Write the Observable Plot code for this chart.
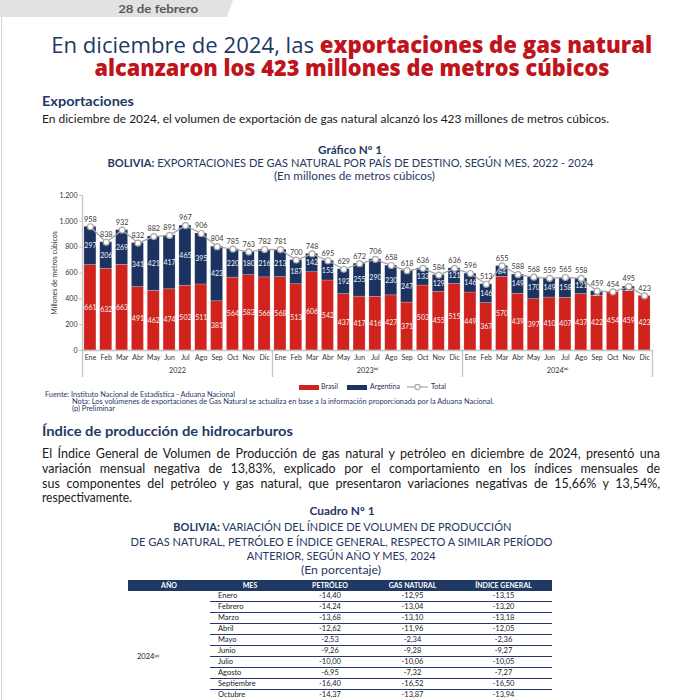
<!DOCTYPE html>
<html lang="es"><head><meta charset="utf-8">
<script src="https://cdn.jsdelivr.net/npm/d3@7"></script>
<script src="https://cdn.jsdelivr.net/npm/@observablehq/plot@0.6"></script>
<style>
html,body{margin:0;padding:0}
body{width:700px;height:700px;overflow:hidden;position:relative;background:#fff;font-family:Lato,"Open Sans",sans-serif;color:#1a1a1a}
.t{position:absolute;white-space:nowrap;line-height:1;display:inline-block}
.t .ib{display:inline-block;line-height:1}
.navy{color:#1f3864}
.red{color:#c0141c}
.b{font-weight:700}
#tab{position:absolute;left:0;top:0;width:233px;height:17px;background:#e2e2e2;clip-path:polygon(0 0,233px 0,227px 17px,0 17px)}
#border{position:absolute;left:1px;top:0;width:1px;height:700px;background:#d2d2d2}
#chart{position:absolute;left:40px;top:188px}
#legend{position:absolute;top:382px;left:0;width:700px;height:10px;font-size:7px;color:#2a2f4a}
#legend .sw{position:absolute;top:3px;width:20px;height:5px}
#legend .lb{position:absolute;top:1px;line-height:1}
table{position:absolute;left:128px;top:580px;border-collapse:collapse;font-size:7.5px;color:#222;table-layout:fixed}
th{background:#1f3864;color:#fff;font-weight:700;height:11px;padding:0;line-height:11px;font-size:7px}
td{height:10px;padding:0;line-height:10px;text-align:center;border-bottom:1px solid #23386a}
td.m{text-align:left;padding-left:8px}
td.y{border-bottom:none;text-align:left;padding-left:9px;vertical-align:middle}
sup{font-size:60%;vertical-align:top;position:relative;top:-1px}
</style></head><body>
<div id="border"></div>
<div id="tab"></div>
<span class="t b" style="color:#595959" data-fs="12" data-b="14" data-cx="158" data-w="80">28 de febrero</span>
<span class="t" style="font-family:'Open Sans',sans-serif" data-fs="22" data-b="52.5" data-cx="351.5" data-w="601"><span class="ib navy">En diciembre de 2024, las</span> <span class="ib red" style="font-weight:800">exportaciones de gas natural</span></span>
<span class="t red" style="font-family:'Open Sans',sans-serif;font-weight:800" data-fs="22" data-b="76" data-cx="351.5" data-w="515">alcanzaron los 423 millones de metros cúbicos</span>
<span class="t b navy" data-fs="13.5" data-b="107" data-x="42" data-w="92">Exportaciones</span>
<span class="t" data-fs="12" data-b="123.5" data-x="42" data-w="567">En diciembre de 2024, el volumen de exportación de gas natural alcanzó los 423 millones de metros cúbicos.</span>
<span class="t b navy" data-fs="11" data-b="153.5" data-cx="350" data-w="64">Gráfico Nº 1</span>
<span class="t navy" data-fs="11" data-b="167" data-cx="351" data-w="486"><b>BOLIVIA:</b> EXPORTACIONES DE GAS NATURAL POR PAÍS DE DESTINO, SEGÚN MES, 2022 - 2024</span>
<span class="t navy" data-fs="11" data-b="179.5" data-cx="354" data-w="161">(En millones de metros cúbicos)</span>
<div id="chart"></div>
<div id="legend">
  <div class="sw" style="left:299px;background:#d0231d"></div><span class="lb" style="left:321px">Brasil</span>
  <div class="sw" style="left:347px;background:#1c3361"></div><span class="lb" style="left:370px">Argentina</span>
  <svg style="position:absolute;left:406px;top:0" width="24" height="10"><line x1="1" y1="5" x2="22" y2="5" stroke="#a6a6a6" stroke-width="1.2"/><circle cx="11.5" cy="5" r="2.6" fill="#fff" stroke="#a6a6a6" stroke-width="1.1"/></svg><span class="lb" style="left:431px">Total</span>
</div>
<span class="t navy" data-fs="7" data-b="397.5" data-x="45" data-w="190">Fuente: Instituto Nacional de Estadística - Aduana Nacional</span>
<span class="t navy" data-fs="7" data-b="404.5" data-x="72" data-w="422">Nota:  Los volúmenes de exportaciones de Gas Natural se actualiza en base a la información proporcionada por la Aduana Nacional.</span>
<span class="t navy" data-fs="7" data-b="411.5" data-x="72" data-w="43">(p) Preliminar</span>
<span class="t b navy" data-fs="13.5" data-b="437" data-x="42" data-w="251">Índice de producción de hidrocarburos</span>
<span class="t j" data-fs="12.5" data-b="459" data-x="42" data-w="618">El Índice General de Volumen de Producción de gas natural y petróleo en diciembre de 2024, presentó una</span>
<span class="t j" data-fs="12.5" data-b="474" data-x="42" data-w="618">variación mensual negativa de 13,83%, explicado por el comportamiento en los índices mensuales de</span>
<span class="t j" data-fs="12.5" data-b="489" data-x="42" data-w="618">sus componentes del petróleo y gas natural, que presentaron variaciones negativas de 15,66% y 13,54%,</span>
<span class="t" data-fs="12.5" data-b="503.5" data-x="42" data-w="90">respectivamente.</span>
<span class="t b navy" data-fs="11" data-b="514.5" data-cx="342" data-w="65">Cuadro Nº 1</span>
<span class="t navy" data-fs="11" data-b="530.5" data-cx="342" data-w="338"><b>BOLIVIA:</b> VARIACIÓN DEL ÍNDICE DE VOLUMEN DE PRODUCCIÓN</span>
<span class="t navy" data-fs="11" data-b="545.5" data-cx="341" data-w="422">DE GAS NATURAL, PETRÓLEO E ÍNDICE GENERAL, RESPECTO A SIMILAR PERÍODO</span>
<span class="t navy" data-fs="11" data-b="560" data-cx="341" data-w="189">ANTERIOR, SEGÚN AÑO Y MES, 2024</span>
<span class="t navy" data-fs="11" data-b="573.5" data-cx="341" data-w="80">(En porcentaje)</span>
<table id="tbl"></table>
<script>
// ---------- Chart data ----------
const years = ["2022", "2023", "2024"];
const yearLabels = ["2022", "2023⁽ᵖ⁾", "2024⁽ᵖ⁾"];
const months = ["Ene","Feb","Mar","Abr","May","Jun","Jul","Ago","Sep","Oct","Nov","Dic"];
const brasil2022 = [661,632,663,491,462,474,502,511,381,564,583,566];
const brasil2023 = [568,513,606,542,437,417,416,427,371,503,455,515];
const brasil2024 = [449,367,570,439,397,410,407,437,422,454,459,423];
const argentina2022 = [297,206,269,341,421,417,465,395,423,220,180,216];
const argentina2023 = [213,187,142,153,192,255,290,230,247,133,129,121];
const argentina2024 = [146,146,84,149,170,149,158,121,37,0,36,0];
const total2022 = [958,838,932,832,882,891,967,906,804,785,763,782];
const total2023 = [781,700,748,695,629,672,706,658,618,636,584,636];
const total2024 = [596,513,655,588,568,559,565,558,459,454,495,423];
const yTicks = [0,200,400,600,800,1000,1200];

// ---------- Table data ----------
const tableHeaders = ["AÑO","MES","PETRÓLEO","GAS NATURAL","ÍNDICE  GENERAL"];
const tableYear = "2024";
const tableMonths = ["Enero","Febrero","Marzo","Abril","Mayo","Junio","Julio","Agosto","Septiembre","Octubre"];
const petroleo = ["-14,40","-14,24","-13,68","-12,62","-2,53","-9,26","-10,00","-6,95","-16,40","-14,37"];
const gasNatural = ["-12,95","-13,04","-13,10","-11,96","-2,34","-9,28","-10,06","-7,32","-16,52","-13,87"];
const indiceGeneral = ["-13,15","-13,20","-13,18","-12,05","-2,36","-9,27","-10,05","-7,27","-16,50","-13,94"];

const RED = "#d0231d", NAVY = "#1c3361", GREY = "#a6a6a6", AXIS = "#c4c4c4";
const brasil = [brasil2022, brasil2023, brasil2024];
const argentina = [argentina2022, argentina2023, argentina2024];
const totals = [total2022, total2023, total2024];

const keys = [], rows = [], stack = [];
years.forEach((y, i) => months.forEach((m, j) => {
  const key = y + "|" + m;
  keys.push(key);
  rows.push({key, total: totals[i][j]});
}));
years.forEach((y, i) => months.forEach((m, j) => stack.push({key: y + "|" + m, country: "Brasil", value: brasil[i][j]})));
years.forEach((y, i) => months.forEach((m, j) => stack.push({key: y + "|" + m, country: "Argentina", value: argentina[i][j]})));

const W = 620, H = 200, ML = 42, MR = 8, MT = 7, MB = 38;
const step = (W - ML - MR) / keys.length;
const fmt = d => d3.format(",")(d).replace(/,/g, ".");

const chart = Plot.plot({
  width: W, height: H, marginLeft: ML, marginRight: MR, marginTop: MT, marginBottom: MB,
  style: {fontFamily: "Lato, 'Open Sans', sans-serif", fontSize: "7px", color: "#333", background: "transparent", overflow: "visible"},
  x: {domain: keys, paddingInner: 0.24, paddingOuter: 0.12, round: false},
  y: {domain: [0, 1200]},
  color: {domain: ["Brasil", "Argentina"], range: [RED, NAVY]},
  marks: [
    Plot.barY(stack, Plot.stackY({x: "key", y: "value", z: "country", fill: "country", stroke: "#ffffff", strokeOpacity: 0.35, strokeWidth: 0.6})),
    Plot.text(stack.filter(d => d.value > 0), Plot.stackY({x: "key", y: "value", z: "country", text: "value", fill: "#f3f3f3", fontSize: 7})),
    Plot.ruleY([0], {stroke: AXIS, strokeWidth: 1.3}),
    Plot.ruleX([keys[0]], {dx: -step / 2, y1: 1200, y2: 0, insetBottom: -27, stroke: AXIS, strokeWidth: 1.3}),
    Plot.ruleX(["2023|Ene", "2024|Ene"], {dx: -step / 2, y1: 0, y2: 0, insetBottom: -27, stroke: AXIS, strokeWidth: 1.3}),
    Plot.ruleX(["2024|Dic"], {dx: step / 2, y1: 0, y2: 0, insetBottom: -27, stroke: AXIS, strokeWidth: 1.3}),
    Plot.line(rows, {x: "key", y: "total", stroke: GREY, strokeWidth: 1.3}),
    Plot.dot(rows, {x: "key", y: "total", r: 3, fill: "#fff", stroke: GREY, strokeWidth: 1.2}),
    Plot.text(rows, {x: "key", y: "total", text: "total", dy: -7.5, fill: "#3a3a3a", fontSize: 7.3}),
    Plot.axisY({ticks: yTicks, tickFormat: fmt, tickSize: 3, tickPadding: 2, fontSize: 7, stroke: AXIS,
      label: "Millones de metros cúbicos", labelAnchor: "center", labelArrow: "none", labelOffset: 30}),
    Plot.axisX({tickFormat: d => d.split("|")[1], tickSize: 0, tickPadding: 5, fontSize: 7, label: null}),
    Plot.text(years, {x: d => d + "|Jul", frameAnchor: "bottom", dx: -step / 2, dy: 22.7,
      text: (d, i) => yearLabels[i], fontSize: 7.3, fill: "#333"})
  ]
});
document.getElementById("chart").append(chart);

// ---------- Table ----------
const tbl = document.getElementById("tbl");
const widths = [82, 80, 80, 85, 97];
let html = "<colgroup>" + widths.map(w => `<col style="width:${w}px">`).join("") + "</colgroup>";
html += "<tr>" + tableHeaders.map(h => `<th>${h}</th>`).join("") + "</tr>";
tableMonths.forEach((m, i) => {
  html += "<tr>";
  if (i === 0) html += `<td class="y" rowspan="12">${tableYear}<sup>(p)</sup></td>`;
  html += `<td class="m">${m}</td><td>${petroleo[i]}</td><td>${gasNatural[i]}</td><td>${indiceGeneral[i]}</td></tr>`;
});
html += '<tr><td class="m"></td><td></td><td></td><td></td></tr><tr><td class="m"></td><td></td><td></td><td></td></tr>';
tbl.innerHTML = html;

// ---------- Text placement ----------
document.querySelectorAll(".t").forEach(el => {
  const fs = +el.dataset.fs;
  el.style.fontSize = fs + "px";
  el.style.top = (+el.dataset.b - 0.888 * fs) + "px";
  const w0 = el.getBoundingClientRect().width;
  const tw = +el.dataset.w;
  if (el.classList.contains("j")) {
    const spaces = (el.textContent.match(/ /g) || []).length;
    el.style.left = el.dataset.x + "px";
    if (w0 <= tw) { el.style.wordSpacing = ((tw - w0) / spaces) + "px"; }
    else { el.style.transformOrigin = "0 50%"; el.style.transform = `scaleX(${tw / w0})`; }
    return;
  }
  const s = tw ? tw / w0 : 1;
  if (el.dataset.cx !== undefined) {
    el.style.left = (+el.dataset.cx - w0 / 2) + "px";
    el.style.transformOrigin = "50% 50%";
  } else {
    el.style.left = el.dataset.x + "px";
    el.style.transformOrigin = "0 50%";
  }
  el.style.transform = `scaleX(${s})`;
});
</script>
</body></html>
